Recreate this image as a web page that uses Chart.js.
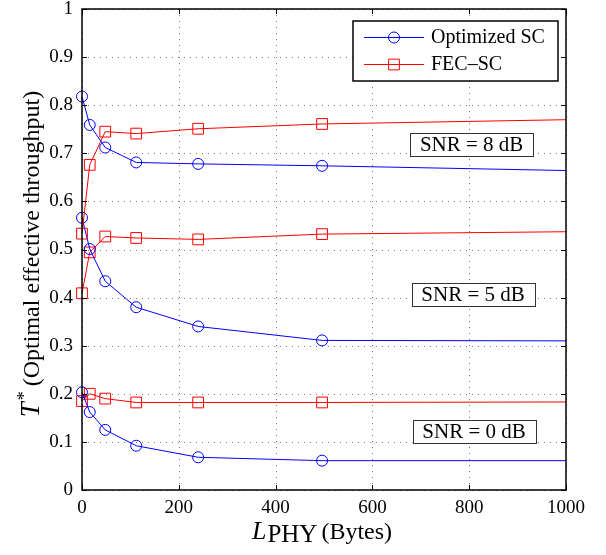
<!DOCTYPE html>
<html>
<head>
<meta charset="utf-8">
<script src="https://cdn.jsdelivr.net/npm/chart.js@4"></script>
<style>
  html, body { margin: 0; padding: 0; background: #fff; }
</style>
</head>
<body>
<canvas id="throughputChart" width="606" height="555"></canvas>
<script>
// L_PHY (bytes); the last point sits just past the axis end, like the original figure
var packetSizes = [0, 16, 48, 112, 240, 496, 1008];

// optimal effective throughput T*
var optSc8dB = [0.818, 0.759, 0.712, 0.681, 0.678, 0.674, 0.664];
var fecSc8dB = [0.533, 0.676, 0.745, 0.741, 0.751, 0.761, 0.770];
var optSc5dB = [0.566, 0.501, 0.434, 0.380, 0.340, 0.311, 0.310];
var fecSc5dB = [0.409, 0.494, 0.527, 0.524, 0.521, 0.532, 0.537];
var optSc0dB = [0.203, 0.162, 0.125, 0.092, 0.068, 0.061, 0.061];
var fecSc0dB = [0.185, 0.200, 0.190, 0.182, 0.182, 0.182, 0.183];

var seriesNames = ['Optimized SC', 'FEC\u2013SC'];
var snrLabels = ['SNR = 8 dB', 'SNR = 5 dB', 'SNR = 0 dB'];

var BLUE = '#0000ff';
var RED = '#ff0000';
var SERIF = '"Liberation Serif", "Times New Roman", serif';

// where the SNR boxes sit, in data units
var snrAnchors = [{x: 805, y: 0.719}, {x: 808, y: 0.406}, {x: 810, y: 0.121}];

function makeSeries(name, values, color, shape) {
	return {
		label: name,
		data: packetSizes.map(function(x, i) { return {x: x, y: values[i]}; }),
		borderColor: color,
		borderWidth: 1,
		tension: 0,
		pointStyle: shape,
		pointRadius: function(ctx) {
			if (ctx.raw && ctx.raw.x > 1000) return 0;
			return shape === 'rect' ? 7.6 : 5.5;
		},
		pointHoverRadius: 0,
		pointBorderColor: color,
		pointBackgroundColor: 'rgba(0,0,0,0)',
		pointBorderWidth: 1,
		clip: {left: false, top: false, right: 0, bottom: false}
	};
}

/* ================= Decorations ================= */

var figurePlugin = {
	id: 'figure',
	beforeDatasetsDraw: function(chart) {
		var ctx = chart.ctx, a = chart.chartArea;
		var xs = chart.scales.x, ys = chart.scales.y;
		ctx.save();
		ctx.strokeStyle = '#7a7a7a';
		ctx.lineWidth = 1;
		ctx.setLineDash([1, 5]);
		xs.ticks.forEach(function(t) {
			var px = Math.round(xs.getPixelForValue(t.value)) + 0.5;
			ctx.beginPath(); ctx.moveTo(px, a.bottom); ctx.lineTo(px, a.top); ctx.stroke();
		});
		ys.ticks.forEach(function(t) {
			var py = Math.round(ys.getPixelForValue(t.value)) + 0.5;
			ctx.beginPath(); ctx.moveTo(a.left, py); ctx.lineTo(a.right, py); ctx.stroke();
		});
		ctx.restore();
	},
	afterDatasetsDraw: function(chart) {
		var ctx = chart.ctx, a = chart.chartArea;
		var xs = chart.scales.x, ys = chart.scales.y;
		ctx.save();

		// SNR boxes
		ctx.font = '21px ' + SERIF;
		ctx.textAlign = 'center';
		ctx.textBaseline = 'middle';
		snrLabels.forEach(function(txt, i) {
			var cx = xs.getPixelForValue(snrAnchors[i].x);
			var cy = ys.getPixelForValue(snrAnchors[i].y);
			var w = 123, h = 23;
			ctx.fillStyle = '#fff';
			ctx.fillRect(cx - w / 2, cy - h / 2, w, h);
			ctx.strokeStyle = '#333';
			ctx.lineWidth = 1;
			ctx.strokeRect(Math.round(cx - w / 2) + 0.5, Math.round(cy - h / 2) + 0.5, w, h);
			ctx.fillStyle = '#000';
			ctx.fillText(txt, cx, cy + 1);
		});

		// legend
		var lx = 353, ly = 21, lw = 205, lh = 60;
		ctx.fillStyle = '#fff';
		ctx.fillRect(lx, ly, lw, lh);
		ctx.strokeStyle = '#000';
		ctx.lineWidth = 1.5;
		ctx.strokeRect(lx, ly, lw, lh);
		var rows = [
			{name: seriesNames[0], color: BLUE, shape: 'circle', y: 37},
			{name: seriesNames[1], color: RED, shape: 'rect', y: 64}
		];
		ctx.textAlign = 'left';
		ctx.font = '20px ' + SERIF;
		rows.forEach(function(r) {
			ctx.strokeStyle = r.color;
			ctx.lineWidth = 1;
			ctx.beginPath(); ctx.moveTo(364, r.y + 0.5); ctx.lineTo(424, r.y + 0.5); ctx.stroke();
			ctx.fillStyle = 'rgba(0,0,0,0)';
			Chart.helpers.drawPoint(ctx, {pointStyle: r.shape, radius: r.shape === 'rect' ? 7.6 : 5.5, borderWidth: 1}, 394, r.y + 0.5);
			ctx.fillStyle = '#000';
			ctx.fillText(r.name, 431, r.y + 1);
		});

		// axes box and inward ticks
		ctx.strokeStyle = '#000';
		ctx.lineWidth = 1.5;
		ctx.strokeRect(a.left, a.top, a.right - a.left, a.bottom - a.top);
		ctx.lineWidth = 1;
		var tl = 5;
		xs.ticks.forEach(function(t) {
			var px = Math.round(xs.getPixelForValue(t.value)) + 0.5;
			ctx.beginPath();
			ctx.moveTo(px, a.bottom); ctx.lineTo(px, a.bottom - tl);
			ctx.moveTo(px, a.top); ctx.lineTo(px, a.top + tl);
			ctx.stroke();
		});
		ys.ticks.forEach(function(t) {
			var py = Math.round(ys.getPixelForValue(t.value)) + 0.5;
			ctx.beginPath();
			ctx.moveTo(a.left, py); ctx.lineTo(a.left + tl, py);
			ctx.moveTo(a.right, py); ctx.lineTo(a.right - tl, py);
			ctx.stroke();
		});

		// x title: L_PHY (Bytes)
		ctx.fillStyle = '#000';
		ctx.textBaseline = 'alphabetic';
		var fL = 'italic 26px ' + SERIF, fSub = '25px ' + SERIF, fTxt = '24px ' + SERIF;
		ctx.font = fL; var wL = ctx.measureText('L').width;
		ctx.font = fSub; var wSub = ctx.measureText('PHY').width;
		ctx.font = fTxt; var wTxt = ctx.measureText('(Bytes)').width;
		var total = wL + 1 + wSub + 4 + wTxt;
		var x0 = (a.left + a.right) / 2 - 2 - total / 2, base = 539;
		ctx.font = fL; ctx.fillText('L', x0, base);
		ctx.font = fSub; ctx.fillText('PHY', x0 + wL + 1, base + 3);
		ctx.font = fTxt; ctx.fillText('(Bytes)', x0 + wL + 1 + wSub + 4, base);

		// y title: T* (Optimal effective throughput)
		ctx.save();
		ctx.translate(39, 254);
		ctx.rotate(-Math.PI / 2);
		var fT = 'italic 27px ' + SERIF, fStar = '18px ' + SERIF, fY = '24px ' + SERIF;
		ctx.font = fT; var wT = ctx.measureText('T').width;
		ctx.font = fStar; var wS = ctx.measureText('*').width;
		ctx.font = fY; var wY = ctx.measureText('(Optimal effective throughput)').width;
		var tot = wT + 2 + wS + 5 + wY;
		var s0 = -tot / 2;
		ctx.font = fT; ctx.fillText('T', s0, 0);
		ctx.font = fStar; ctx.fillText('*', s0 + wT + 2, -9);
		ctx.font = fY; ctx.fillText('(Optimal effective throughput)', s0 + wT + 2 + wS + 5, 0);
		ctx.restore();

		ctx.restore();
	}
};

/* ================= Chart ================= */

var ctx = document.getElementById('throughputChart');
var throughputChart = new Chart(ctx, {
	type: 'line',
	data: {
		datasets: [
			makeSeries(seriesNames[0], optSc8dB, BLUE, 'circle'),
			makeSeries(seriesNames[1], fecSc8dB, RED, 'rect'),
			makeSeries(seriesNames[0], optSc5dB, BLUE, 'circle'),
			makeSeries(seriesNames[1], fecSc5dB, RED, 'rect'),
			makeSeries(seriesNames[0], optSc0dB, BLUE, 'circle'),
			makeSeries(seriesNames[1], fecSc0dB, RED, 'rect')
		]
	},
	options: {
		responsive: false,
		animation: false,
		events: [],
		layout: { padding: { top: 0, right: 40, bottom: 0, left: 0 } },
		plugins: {
			legend: { display: false },
			tooltip: { enabled: false }
		},
		scales: {
			x: {
				type: 'linear',
				min: 0,
				max: 1000,
				grid: { display: false, drawTicks: false, tickLength: 0 },
				border: { display: false },
				ticks: {
					stepSize: 200,
					color: '#000',
					padding: 7,
					maxRotation: 0,
					font: { family: SERIF, size: 19 },
					callback: function(v) { return String(v); }
				},
				afterFit: function(scale) { scale.height = 65; }
			},
			y: {
				min: 0,
				max: 1,
				grid: { display: false, drawTicks: false, tickLength: 0 },
				border: { display: false },
				ticks: {
					stepSize: 0.1,
					color: '#000',
					padding: 9,
					font: { family: SERIF, size: 19 },
					callback: function(v) { return String(Number(v.toFixed(1))); }
				},
				afterFit: function(scale) {
					scale.width = 82;
					scale.paddingTop = 9;
					scale.paddingBottom = 0;
				}
			}
		}
	},
	plugins: [figurePlugin]
});
</script>
</body>
</html>
